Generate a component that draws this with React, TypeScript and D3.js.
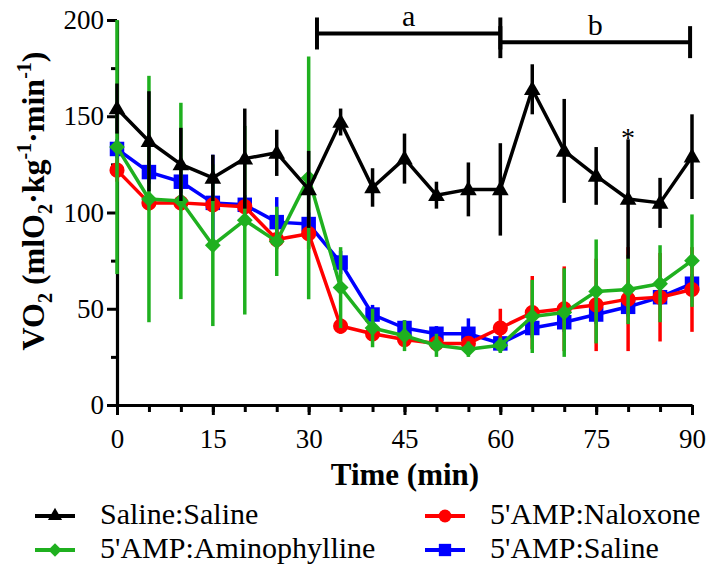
import React, { useEffect, useRef } from 'react';
import * as d3 from 'd3';

// time points (min)
const times = [0, 5, 10, 15, 20, 25, 30, 35, 40, 45, 50, 55, 60, 65, 70, 75, 80, 85, 90];

const salineSaline = [154, 137, 125, 118, 128, 131, 112, 147, 113, 128, 109, 112, 112, 164, 132, 119, 107, 105, 129];
const salineSalineErr = [13, 26, 19, 12, 26, 12, 20, 7, 10, 13, 7, 14, 24, 13, 27, 15, 31, 13, 22];

const ampNaloxone = [122, 105, 105, 104, 103, 86, 89, 41, 37, 34, 32, 32, 40, 48, 50, 52, 55, 56, 60];
const ampNaloxoneErr = [6, 4, 4, 4, 4, 5, 8, 4, 4, 3, 3, 3, 10, 19, 22, 24, 27, 23, 22];

const ampAminophylline = [134, 107, 106, 83, 96, 85, 118, 61, 40, 36, 31, 29, 31, 46, 48, 59, 60, 63, 75];
const ampAminophyllineErr = [66, 64, 51, 42, 49, 18, 63, 21, 10, 8, 6, 4, 4, 19, 23, 27, 18, 20, 24];

const ampSaline = [133, 121, 116, 105, 104, 95, 94, 74, 47, 40, 37, 37, 32, 40, 43, 47, 51, 56, 63];
const ampSalineErr = [5, 6, 6, 25, 5, 13, 6, 6, 5, 4, 4, 8, 4, 5, 5, 5, 5, 4, 5];

const yMajorTicks = [0, 50, 100, 150, 200];
const yMinorTicks = [25, 75, 125, 175];
const xMajorTicks = [0, 15, 30, 45, 60, 75, 90];

// significance brackets (time range, level in y units)
const bracketLabels = ['a', 'b'];
const bracketStart = [31.3, 60];
const bracketEnd = [60, 89.7];
const bracketLevel = [193, 188.5];
const starTime = 80;

const FONT = 'Liberation Serif, Times New Roman, serif';

type Series = { name: string; values: number[]; err: number[]; color: string; shape: string };

// draw order: blue, red, green, black (black on top)
const drawOrder: Series[] = [
  { name: "5'AMP:Saline", values: ampSaline, err: ampSalineErr, color: '#0000ff', shape: 'square' },
  { name: "5'AMP:Naloxone", values: ampNaloxone, err: ampNaloxoneErr, color: '#ff0000', shape: 'circle' },
  { name: "5'AMP:Aminophylline", values: ampAminophylline, err: ampAminophyllineErr, color: '#1fb01f', shape: 'diamond' },
  { name: 'Saline:Saline', values: salineSaline, err: salineSalineErr, color: '#000000', shape: 'triangle' },
];

const legendOrder = ['Saline:Saline', "5'AMP:Naloxone", "5'AMP:Aminophylline", "5'AMP:Saline"];

const symbolPath = (shape: string, scale = 1) => {
  if (shape === 'triangle') return d3.symbol(d3.symbolTriangle, 120 * scale * scale)();
  if (shape === 'circle') return d3.symbol(d3.symbolCircle, 180 * scale * scale)();
  if (shape === 'square') return d3.symbol(d3.symbolSquare, 210 * scale * scale)();
  return d3.symbol(d3.symbolSquare, 125 * scale * scale)();
};

const App = () => {
  const svgRef = useRef<SVGSVGElement>(null);
  const width = 719;
  const height = 567;

  useEffect(() => {
    const svg = d3.select(svgRef.current);
    svg.selectAll('*').remove();
    svg.style('font-family', FONT);

    const x = d3.scaleLinear().domain([0, 90]).range([117, 692]);
    const y = d3.scaleLinear().domain([0, 200]).range([405, 20]);

    // Axes
    const yMinor = svg.append('g').attr('transform', `translate(${x(0)},0)`)
      .call(d3.axisLeft(y).tickValues(yMinorTicks).tickSize(6).tickFormat(() => ''));
    yMinor.select('.domain').remove();
    const yAxis = svg.append('g').attr('transform', `translate(${x(0)},0)`)
      .call(d3.axisLeft(y).tickValues(yMajorTicks).tickSize(10).tickSizeOuter(0).tickPadding(3));

    const xMinor = svg.append('g').attr('transform', `translate(0,${y(0)})`)
      .call(d3.axisBottom(x).tickValues(times).tickSize(7).tickFormat(() => ''));
    xMinor.select('.domain').remove();
    const xAxis = svg.append('g').attr('transform', `translate(0,${y(0)})`)
      .call(d3.axisBottom(x).tickValues(xMajorTicks).tickSize(10).tickSizeOuter(0).tickPadding(14));

    [yMinor, yAxis, xMinor, xAxis].forEach(g => {
      g.attr('font-family', null);
      g.selectAll('line').attr('stroke', '#000').attr('stroke-width', 3);
      g.selectAll('.domain').attr('stroke', '#000').attr('stroke-width', 3.2);
      g.selectAll('text').style('font-family', FONT).attr('font-size', 27).attr('fill', '#000');
    });

    // Axis titles
    svg.append('text')
      .attr('x', 405).attr('y', 485)
      .attr('text-anchor', 'middle')
      .style('font-family', FONT).attr('font-size', 31).attr('font-weight', 'bold')
      .text('Time (min)');

    const yTitle = svg.append('text')
      .attr('transform', 'translate(44,201) rotate(-90)')
      .attr('text-anchor', 'middle')
      .style('font-family', FONT).attr('font-size', 32).attr('font-weight', 'bold');
    yTitle.append('tspan').text('VO');
    yTitle.append('tspan').attr('font-size', 20).attr('dy', 8).text('2');
    yTitle.append('tspan').attr('dy', -8).text(' (mlO');
    yTitle.append('tspan').attr('font-size', 20).attr('dy', 8).text('2');
    yTitle.append('tspan').attr('dy', -8).text('·kg');
    yTitle.append('tspan').attr('font-size', 20).attr('dy', -13).text('-1');
    yTitle.append('tspan').attr('dy', 13).text('·min');
    yTitle.append('tspan').attr('font-size', 20).attr('dy', -13).text('-1');
    yTitle.append('tspan').attr('dy', 13).text(')');

    // Series
    const line = d3.line<number>()
      .x((d, i) => x(times[i]))
      .y(d => y(d));

    drawOrder.forEach(s => {
      const g = svg.append('g');
      g.selectAll('line.err')
        .data(s.values)
        .enter()
        .append('line')
        .attr('class', 'err')
        .attr('x1', (d, i) => x(times[i]))
        .attr('x2', (d, i) => x(times[i]))
        .attr('y1', (d, i) => y(Math.min(200, d + s.err[i])))
        .attr('y2', (d, i) => y(Math.max(0, d - s.err[i])))
        .attr('stroke', s.color)
        .attr('stroke-width', 3.5);

      g.append('path')
        .datum(s.values)
        .attr('fill', 'none')
        .attr('stroke', s.color)
        .attr('stroke-width', 3.5)
        .attr('stroke-linejoin', 'round')
        .attr('d', line);

      g.selectAll('path.mark')
        .data(s.values)
        .enter()
        .append('path')
        .attr('class', 'mark')
        .attr('d', symbolPath(s.shape))
        .attr('transform', (d, i) =>
          `translate(${x(times[i])},${y(d) + (s.shape === 'triangle' ? 1 : 0)})${s.shape === 'diamond' ? ' rotate(45)' : ''}`)
        .attr('fill', s.color);
    });

    // Brackets
    bracketLabels.forEach((label, i) => {
      const x0 = x(bracketStart[i]);
      const x1 = x(bracketEnd[i]);
      const by = y(bracketLevel[i]);
      const g = svg.append('g').attr('stroke', '#000').attr('stroke-width', 4);
      g.append('line').attr('x1', x0).attr('x2', x1).attr('y1', by).attr('y2', by);
      g.append('line').attr('x1', x0).attr('x2', x0).attr('y1', by - 16).attr('y2', by + 16);
      g.append('line').attr('x1', x1).attr('x2', x1).attr('y1', by - 16).attr('y2', by + 16);
      svg.append('text')
        .attr('x', (x0 + x1) / 2).attr('y', by - 7)
        .attr('text-anchor', 'middle')
        .style('font-family', FONT).attr('font-size', 30)
        .text(label);
    });

    // asterisk
    const starIdx = times.indexOf(starTime);
    svg.append('text')
      .attr('x', x(starTime))
      .attr('y', y(salineSaline[starIdx] + salineSalineErr[starIdx]) + 8)
      .attr('text-anchor', 'middle')
      .style('font-family', FONT).attr('font-size', 28)
      .text('*');

    // Legend
    const legendX = [35, 425];
    const legendY = [516, 550];
    legendOrder.forEach((name, i) => {
      const s = drawOrder.find(d => d.name === name)!;
      const lx = legendX[i % 2];
      const ly = legendY[Math.floor(i / 2)];
      const g = svg.append('g');
      g.append('line')
        .attr('x1', lx).attr('x2', lx + 40)
        .attr('y1', ly).attr('y2', ly)
        .attr('stroke', s.color).attr('stroke-width', 4);
      g.append('path')
        .attr('d', symbolPath(s.shape, 0.85))
        .attr('transform', `translate(${lx + 20},${ly})${s.shape === 'diamond' ? ' rotate(45)' : ''}`)
        .attr('fill', s.color);
      g.append('text')
        .attr('x', lx + 65).attr('y', ly + 8)
        .style('font-family', FONT).attr('font-size', 30)
        .text(name);
    });
  }, []);

  return (
    <svg
      ref={svgRef}
      width={width}
      height={height}
      style={{ position: 'absolute', left: 0, top: 0, background: '#fff' }}
    />
  );
};

export default App;
